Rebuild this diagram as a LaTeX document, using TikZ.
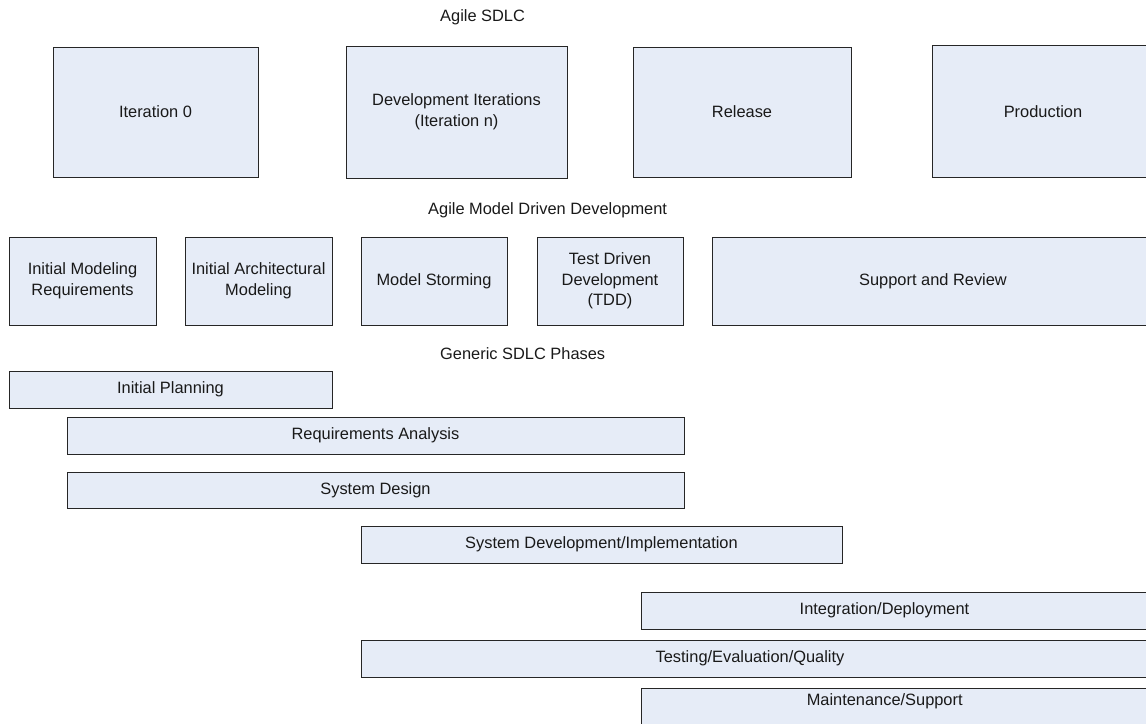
\documentclass[tikz,border=0pt]{standalone}
\usepackage{fontspec}
\setmainfont{Liberation Sans}
\definecolor{boxfill}{RGB}{230,236,247}
\definecolor{boxline}{RGB}{38,38,38}
\definecolor{ink}{RGB}{25,25,25}
\begin{document}
\begin{tikzpicture}[x=1pt, y=-1pt,
  every node/.style={font=\fontsize{16.4}{20.7}\selectfont, text=ink},
  phase/.style={draw=boxline, fill=boxfill, line width=1pt, inner sep=0pt, outer sep=0pt, align=center},
  label/.style={inner sep=0pt, anchor=base},
  title/.style={inner sep=0pt, anchor=base west}]
\useasboundingbox (0,0) rectangle (1146,723);
\clip (0,0) rectangle (1146,723);

% Agile SDLC
\node[title] (t1) at (440,21) {Agile SDLC};
\node[phase, minimum width=205, minimum height=130] (it0) at (155.5,112) {Iteration 0};
\node[phase, minimum width=221, minimum height=132] (dev) at (456.5,112) {Development Iterations\\(Iteration n)};
\node[phase, minimum width=218, minimum height=130] (rel) at (742,112) {Release};
\draw[phase] (932,45) rectangle (1170,177);
\node[label] (prod) at (1043,117.5) {Production};

% Agile Model Driven Development
\node[title] (t2) at (428,214) {Agile Model Driven Development};
\node[phase, minimum width=147, minimum height=88] (imr) at (82.5,281) {Initial Modeling\\Requirements};
\node[phase, minimum width=147, minimum height=88] (iam) at (258.5,281) {Initial Architectural\\Modeling};
\node[phase, minimum width=146, minimum height=88] (mst) at (434,281) {Model Storming};
\node[phase, minimum width=146, minimum height=88] (tdd) at (610,281) {Test Driven\\Development\\(TDD)};
\draw[phase] (712,237) rectangle (1170,325);
\node[label] (sr) at (933,285.2) {Support and Review};

% Generic SDLC phases
\node[title] (t3) at (440,359) {Generic SDLC Phases};
\node[phase, minimum width=323, minimum height=37] (ip) at (170.5,389.5) {Initial Planning};
\node[phase, minimum width=617, minimum height=37] (ra) at (375.5,435.5) {Requirements Analysis};
\node[phase, minimum width=617, minimum height=36] (sd) at (375.5,490) {System Design};
\node[phase, minimum width=481, minimum height=37] (sdi) at (601.5,544.5) {System Development/Implementation};
\draw[phase] (641,592) rectangle (1170,629);
\node[label] (id) at (884.5,614.7) {Integration/Deployment};
\draw[phase] (361,640) rectangle (1170,677);
\node[label] (tq) at (750,662.7) {Testing/Evaluation/Quality};
\draw[phase] (641,688) rectangle (1170,740);
\node[label] (mnt) at (884.7,705) {Maintenance/Support};
\end{tikzpicture}
\end{document}
